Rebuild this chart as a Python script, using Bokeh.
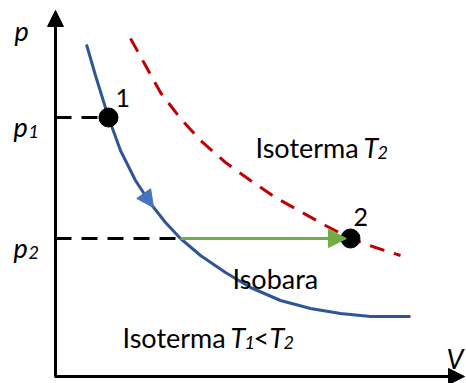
from bokeh.plotting import figure
from bokeh.models import Range1d, Arrow, NormalHead
from bokeh.core.properties import value
from bokeh.embed import file_html
from bokeh.resources import INLINE

# Schematic p-V diagram in canvas units (V to the right, p downward axis flipped)
# Isotherm T1 (blue), sampled points
iso1_v = [86, 95, 108, 120, 135, 150, 165, 180, 200, 225, 250, 280, 310, 340, 370, 410]
iso1_p = [44, 75, 117, 150, 180, 203, 222, 238, 255, 272, 287, 300, 308, 313, 316, 316]

# Isotherm T2 (red dashed), sampled points
iso2_v = [130, 145, 160, 180, 200, 225, 250, 275, 300, 325, 350, 375, 400]
iso2_p = [38, 65, 92, 118, 140, 162, 180, 197, 211, 225, 238, 247, 255]

# States 1 and 2
state_v = [108, 350]
state_p = [117, 238]
state_labels = ["1", "2"]

# Isobaric process at p2, from the T1 isotherm to state 2
isobar_v = [180, 350]

FONT = value("Lato")
BIG = "27px"
SUB = "18px"

p = figure(width=466, height=383, output_backend="svg", toolbar_location=None,
           x_range=Range1d(0, 466), y_range=Range1d(383, 0),
           min_border=0, outline_line_color=None)
p.axis.visible = False
p.grid.visible = False

# Axes with arrowheads
p.add_layout(Arrow(end=NormalHead(size=16, fill_color="black", line_color="black"),
                   x_start=55, y_start=376, x_end=55, y_end=10,
                   line_width=3, line_color="black"))
p.add_layout(Arrow(end=NormalHead(size=16, fill_color="black", line_color="black"),
                   x_start=54, y_start=376, x_end=464, y_end=376,
                   line_width=3, line_color="black"))

# Dashed guides to the pressure axis
p.line([55, state_v[0]], [state_p[0], state_p[0]], line_color="black",
       line_width=3, line_dash="16 10")
p.line([55, isobar_v[0]], [state_p[1], state_p[1]], line_color="black",
       line_width=3, line_dash="16 10")

# Isotherms
p.line(iso2_v, iso2_p, line_color="#C00000", line_width=3, line_dash="15 10")
p.line(iso1_v, iso1_p, line_color="#2F5597", line_width=3)

# Direction marker on the T1 isotherm
p.add_layout(Arrow(end=NormalHead(size=17, fill_color="#4472C4", line_color="#4472C4"),
                   x_start=141, y_start=190, x_end=153, y_end=207,
                   line_width=0, line_alpha=0))

# Isobar
p.add_layout(Arrow(end=NormalHead(size=18, fill_color="#70AD47", line_color="#70AD47"),
                   x_start=isobar_v[0], y_start=state_p[1], x_end=isobar_v[1] - 4,
                   y_end=state_p[1], line_width=3, line_color="#70AD47"))

# State points
p.scatter(state_v, state_p, size=19, color="black")

# State numbers
p.text([state_v[0] + 7, state_v[1] + 3], [state_p[0] - 20, state_p[1] - 22],
       text=state_labels, text_font=FONT, text_font_size="25px",
       text_color="black", text_baseline="alphabetic")

# Axis labels
p.text([14], [30], text=["p"], text_font=FONT, text_font_size=BIG,
       text_font_style="italic", text_baseline="alphabetic")
p.text([446], [358], text=["V"], text_font=FONT, text_font_size=BIG,
       text_font_style="italic", text_baseline="alphabetic")

# Pressure tick labels
p.text([13, 13], [state_p[0] + 9, state_p[1] + 9], text=["p", "p"], text_font=FONT,
       text_font_size=BIG, text_font_style="italic", text_baseline="alphabetic")
p.text([28, 28], [state_p[0] + 14, state_p[1] + 14], text=["1", "2"], text_font=FONT,
       text_font_size=SUB, text_font_style="italic", text_baseline="alphabetic")

# Curve annotations
p.text([255], [147], text=["Isoterma"], text_font=FONT, text_font_size=BIG,
       text_baseline="alphabetic")
p.text([363], [147], text=["T"], text_font=FONT, text_font_size=BIG,
       text_font_style="italic", text_baseline="alphabetic")
p.text([377], [152], text=["2"], text_font=FONT, text_font_size=SUB,
       text_font_style="italic", text_baseline="alphabetic")

p.text([232], [278], text=["Isobara"], text_font=FONT, text_font_size=BIG,
       text_baseline="alphabetic")

p.text([122], [337], text=["Isoterma"], text_font=FONT, text_font_size=BIG,
       text_baseline="alphabetic")
p.text([230], [337], text=["T"], text_font=FONT, text_font_size=BIG,
       text_font_style="italic", text_baseline="alphabetic")
p.text([244], [342], text=["1"], text_font=FONT, text_font_size=SUB,
       text_font_style="italic", text_baseline="alphabetic")
p.text([253], [337], text=["<"], text_font=FONT, text_font_size=BIG,
       text_baseline="alphabetic")
p.text([269], [337], text=["T"], text_font=FONT, text_font_size=BIG,
       text_font_style="italic", text_baseline="alphabetic")
p.text([283], [342], text=["2"], text_font=FONT, text_font_size=SUB,
       text_font_style="italic", text_baseline="alphabetic")

open("out.html", "w").write(file_html(p, INLINE))
